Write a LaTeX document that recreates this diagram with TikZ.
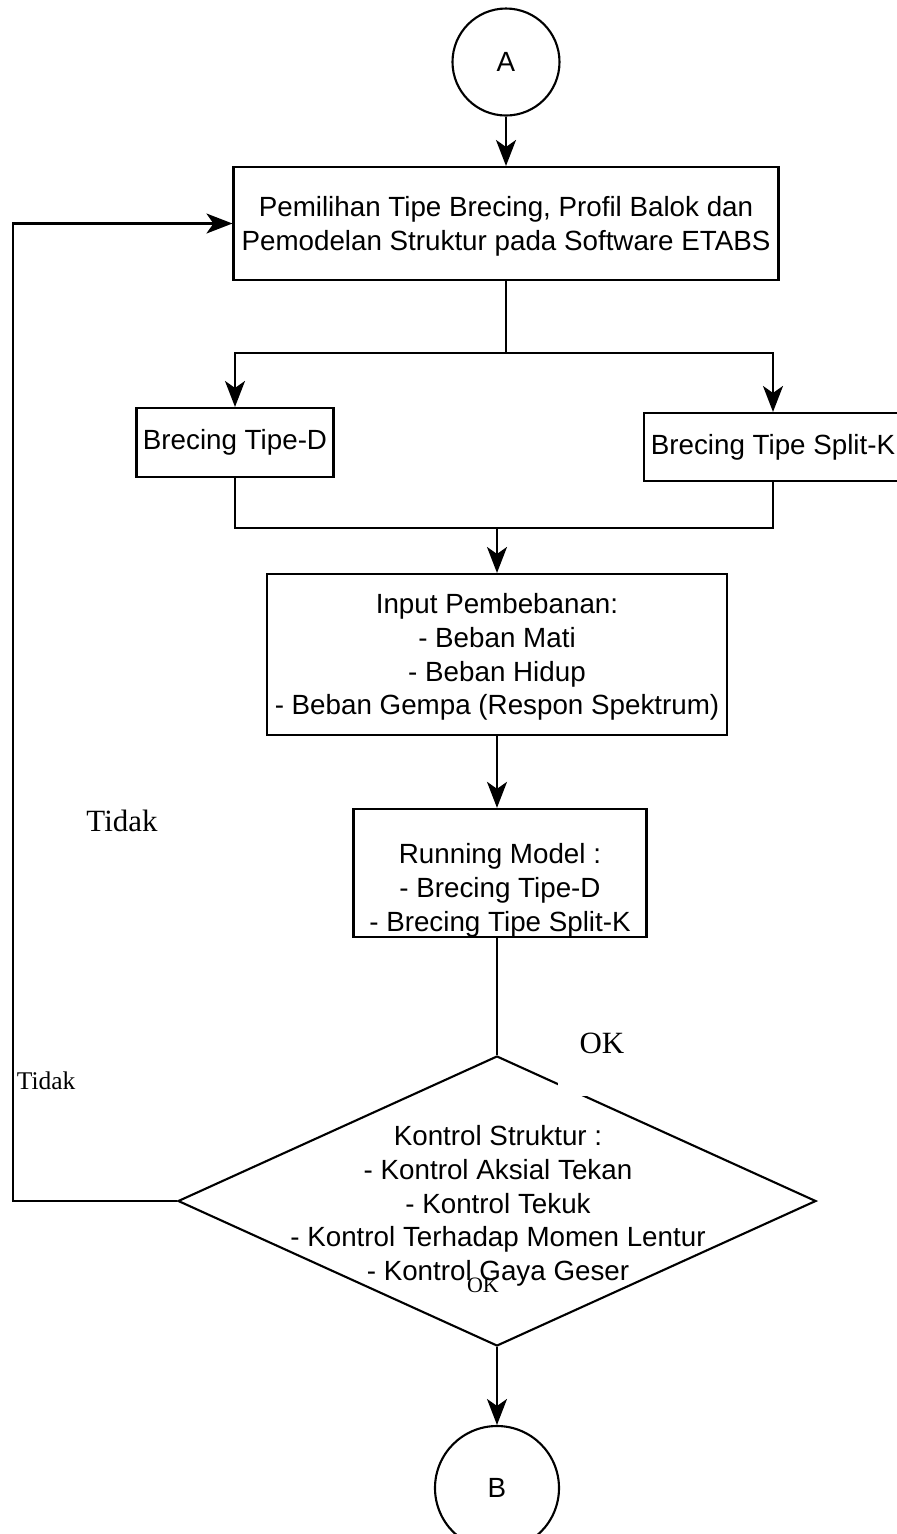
\documentclass[tikz,border=0pt]{standalone}
\usepackage{fontspec}
\setmainfont{Liberation Sans}
\newfontfamily\timesfont{Liberation Serif}
\usetikzlibrary{arrows.meta,positioning,shapes.geometric}
\tikzset{box/.style={draw,line width=1.2pt,align=center,font=\fontsize{15.8}{19.2}\selectfont,inner sep=0pt},conn/.style={draw,circle,line width=1.2pt,font=\fontsize{15.8}{19.2}\selectfont,inner sep=0pt},dec/.style={draw,diamond,line width=1.2pt,inner sep=0pt,minimum width=127.6mm,minimum height=58mm},lnk/.style={draw,line width=1.2pt},arr/.style={-{Stealth[length=5.2mm,width=4mm,inset=1.4mm]},line width=1.2pt},lbl/.style={font=\timesfont\fontsize{17.6}{20}\selectfont,inner sep=0pt}}

\begin{document}
\begin{tikzpicture}[x=0.2mm,y=-0.2mm]
\useasboundingbox (0,0) rectangle (897,1534);
\node[conn,minimum size=21.4mm] (a) at (506,62) {A};
\node[box,minimum width=109mm,minimum height=22.6mm] (sel) at (506,223.5) {
\rule{0pt}{5.2mm}Pemilihan Tipe Brecing, Profil Balok dan\\
Pemodelan Struktur pada Software ETABS
};
\node[box,minimum width=39.4mm,minimum height=13.8mm] (brd) at (235,442.5) {Brecing Tipe-D};
\node[box,minimum width=51.6mm,minimum height=13.6mm] (brk) at (773,447) {Brecing Tipe Split-K};
\node[box,minimum width=92mm,minimum height=32.2mm] (beban) at (497,654.5) {
\rule{0pt}{5mm}Input Pembebanan:\\
- Beban Mati\\
- Beban Hidup\\
- Beban Gempa (Respon Spektrum)
};
\node[box,minimum width=58.6mm,minimum height=24.8mm] (run) at (500,873) {
\rule{0pt}{11mm}Running Model :\\
- Brecing Tipe-D\\
- Brecing Tipe Split-K
};
\node[dec] (ctrl) at (497,1201) {};
\node[box,draw=none] (ctrltxt) at (498,1206) {
Kontrol Struktur :\\
- Kontrol Aksial Tekan\\
- Kontrol Tekuk\\
- Kontrol Terhadap Momen Lentur\\
- Kontrol Gaya Geser
};
\node[conn,minimum size=24.8mm] (b) at (497,1488) {B};

\draw[arr] (a.south) -- (a.south |- sel.north);
\draw[lnk] (sel.south) -- ++(0,72) coordinate (fork);
\draw[arr] (fork) -| (brd.north);
\draw[arr] (fork) -| (brk.north);
\draw[lnk] (brd.south) -- ++(0,50) coordinate (join) -| (brk.south);
\draw[arr] (beban.north |- join) -- (beban.north);
\draw[arr] (beban.south) -- (beban.south |- run.north);
\draw[lnk] (ctrl.north |- run.south) -- (ctrl.north);
\draw[arr] (ctrl.south) -- (ctrl.south |- b.north);
\draw[arr] (ctrl.west) -- ++(-164,0) |- (sel.west);

% labels
\node[lbl] (tidak) at (122,821) {Tidak};
\node[lbl,font=\timesfont\fontsize{14.5}{16}\selectfont,fill=white,anchor=west,inner xsep=0.2mm,inner ysep=4.5mm] (tidak2) at (15.5,1081) {Tidak};
\node[lbl,fill=white,anchor=base,inner xsep=4.4mm,inner ysep=0.5mm,text depth=8mm] (ok) at (602,1053) {OK};
\node[lbl,font=\timesfont\fontsize{12.5}{14}\selectfont] (ok2) at (483,1285) {OK};
\end{tikzpicture}
\end{document}
